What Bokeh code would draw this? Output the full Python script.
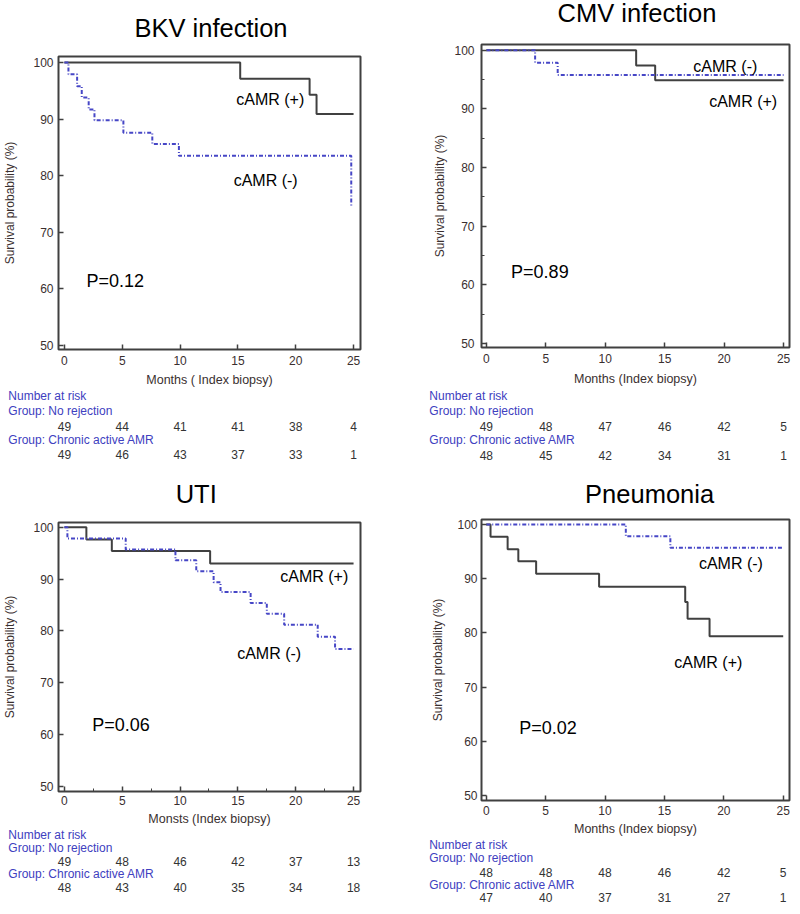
from bokeh.plotting import figure
from bokeh.layouts import column, row
from bokeh.models import Range1d, SingleIntervalTicker
from bokeh.embed import file_html
from bokeh.resources import INLINE
from bokeh.core.properties import value

# ---------------- data ----------------
bkv_pos_t = [0, 15.2, 21.2, 21.8, 25]
bkv_pos_s = [100, 97.1, 94.3, 90.9, 90.9]
bkv_neg_t = [0, 0.35, 1.1, 1.5, 2.1, 2.6, 5.1, 7.6, 9.9, 24.8]
bkv_neg_s = [100, 97.9, 95.8, 93.8, 91.7, 89.8, 87.6, 85.6, 83.5, 74.4]

cmv_pos_t = [0, 12.6, 14.2, 25]
cmv_pos_s = [100, 97.4, 94.9, 94.9]
cmv_neg_t = [0, 4.1, 6.0, 25]
cmv_neg_s = [100, 97.9, 95.8, 95.8]

uti_pos_t = [0, 1.9, 4.1, 12.6, 25]
uti_pos_s = [100, 97.6, 95.4, 93.0, 93.0]
uti_neg_t = [0, 0.26, 5.3, 9.6, 11.4, 12.9, 13.5, 16.1, 17.5, 19.0, 21.9, 23.4, 25]
uti_neg_s = [100, 97.8, 95.7, 93.6, 91.5, 89.4, 87.5, 85.4, 83.3, 81.2, 78.9, 76.5, 76.5]

pn_pos_t = [0, 0.36, 1.8, 2.7, 4.2, 9.5, 16.75, 16.95, 18.8, 25]
pn_pos_s = [100, 97.7, 95.4, 93.2, 90.9, 88.5, 85.7, 82.6, 79.4, 79.4]
pn_neg_t = [0, 11.75, 15.5, 25]
pn_neg_s = [100, 97.8, 95.7, 95.7]

risk_months = [0, 5, 10, 15, 20, 25]
bkv_risk_nr = [49, 44, 41, 41, 38, 4]
bkv_risk_ca = [49, 46, 43, 37, 33, 1]
cmv_risk_nr = [49, 48, 47, 46, 42, 5]
cmv_risk_ca = [48, 45, 42, 34, 31, 1]
uti_risk_nr = [49, 48, 46, 42, 37, 13]
uti_risk_ca = [48, 43, 40, 35, 34, 18]
pn_risk_nr = [48, 48, 48, 46, 42, 5]
pn_risk_ca = [47, 40, 37, 31, 27, 1]

titles = ["BKV infection", "CMV infection", "UTI", "Pneumonia"]
p_values = ["P=0.12", "P=0.89", "P=0.06", "P=0.02"]
x_titles = ["Months ( Index biopsy)", "Months (Index biopsy)",
            "Monsts (Index biopsy)", "Months (Index biopsy)"]
y_title = "Survival probability (%)"
risk_head = "Number at risk"
group_nr = "Group: No rejection"
group_ca = "Group: Chronic active AMR"
lab_pos = "cAMR (+)"
lab_neg = "cAMR (-)"

# ---------------- styling / layout ----------------
SX = 0.98
SY = 0.99
RESERVE = 8          # extra space bokeh keeps at the right of each frame
COLS = [(0, 400), (400, 792)]   # column extents in layout pixels
FONT = "Liberation Sans"
DARK = "#404040"
BLUE = "#4646c6"
TICKC = "#3a2f2f"
TABBLUE = "#4040c0"
HALF = 7  # half height of a 12px text line


def sx(v):
    return int(round(v * SX))


def sy(v):
    return int(round(v * SY))


def blank(W, H, mbl, mbr, xr, yr):
    f = figure(width=W, height=H, min_border=0, min_border_left=mbl,
               min_border_right=mbr, min_border_top=0, min_border_bottom=0,
               x_range=xr, y_range=yr, x_axis_location=None,
               y_axis_location=None, output_backend="svg",
               toolbar_location=None)
    f.grid.visible = False
    f.outline_line_color = None
    f.background_fill_color = "white"
    f.border_fill_color = "white"
    return f


def make_panel(k, pos_t, pos_s, neg_t, neg_s, risk_nr, risk_ca, cfg):
    c0, c1 = COLS[cfg["col"]]
    fy0, fy1 = cfg["fig_y"]
    fl, fr, ft, fb = cfg["frame"]
    tick_y, xtitle_y = cfg["xlab_y"]
    hb = ft - 4
    pb = xtitle_y + HALF + 1
    W = c1 - c0
    mbl = sx(fl) - c0
    mbr = c1 - RESERVE - sx(fr)
    fw = sx(fr) - sx(fl)
    xr0, xr1 = cfg["xr"]
    yr0, yr1 = cfg["yr"]

    # ------- title strip (frame aligned with the plot frame) -------
    h = blank(W, sy(hb) - sy(fy0), mbl, mbr, Range1d(fl, fr), Range1d(hb, fy0))
    h.text(x=[cfg["title_xy"][0]], y=[cfg["title_xy"][1]], text=[titles[k]],
           text_align="center", text_baseline="middle", text_font=value(FONT),
           text_font_size="25.5px", text_color="black", level="overlay")

    # ------- survival plot -------
    H = sy(pb) - sy(hb)
    mbt = sy(ft) - sy(hb)
    mbb = sy(pb) - sy(fb)

    p = figure(width=W, height=H, min_border_left=mbl, min_border_right=mbr,
               min_border_top=mbt, min_border_bottom=mbb,
               x_range=Range1d(xr0, xr1), y_range=Range1d(yr0, yr1),
               output_backend="svg", toolbar_location=None)
    p.grid.visible = False
    p.outline_line_color = DARK
    p.outline_line_width = 2
    p.background_fill_color = "white"
    p.border_fill_color = "white"

    p.xaxis.ticker = SingleIntervalTicker(interval=5, num_minor_ticks=2)
    p.yaxis.ticker = SingleIntervalTicker(interval=10, num_minor_ticks=2)
    for ax in (p.xaxis[0], p.yaxis[0]):
        ax.axis_line_color = None
        ax.major_tick_in = 5
        ax.major_tick_out = 0
        ax.major_tick_line_color = DARK
        ax.major_tick_line_width = 1.5
        ax.minor_tick_in = 3
        ax.minor_tick_out = 0
        ax.minor_tick_line_color = None
        ax.minor_tick_line_width = 1
        ax.major_label_text_font = FONT
        ax.major_label_text_font_size = "12px"
        ax.major_label_text_color = TICKC
        ax.axis_label_text_font = FONT
        ax.axis_label_text_font_style = "normal"
        ax.axis_label_text_color = TICKC
    if cfg["minor_x"]:
        p.xaxis.minor_tick_line_color = DARK
    if cfg["minor_y"]:
        p.yaxis.minor_tick_line_color = DARK

    p.xaxis.axis_label = x_titles[k]
    p.xaxis.axis_label_text_font_size = "12.5px"
    p.xaxis.major_label_standoff = max(0, sy(tick_y - HALF) - sy(fb))
    p.xaxis.axis_label_standoff = max(0, sy(xtitle_y - HALF) - sy(tick_y + HALF))
    p.yaxis.axis_label = y_title
    p.yaxis.axis_label_text_font_size = "12px"
    p.yaxis.major_label_standoff = cfg["yl_stand"]
    p.yaxis.axis_label_standoff = cfg["yt_stand"]

    p.step(x=pos_t, y=pos_s, mode="after", line_color=DARK, line_width=2)
    p.step(x=neg_t, y=neg_s, mode="after", line_color=BLUE, line_width=2,
           line_dash="4 2 1 2")

    ann = cfg["ann"]
    p.text(x=[ann[0][0], ann[1][0]], y=[ann[0][1], ann[1][1]],
           text=[lab_pos, lab_neg], text_align="center", text_baseline="middle",
           text_font=value(FONT), text_font_size="16px", text_color="black")
    p.text(x=[ann[2][0]], y=[ann[2][1]], text=[p_values[k]],
           text_align="center", text_baseline="middle",
           text_font=value(FONT), text_font_size="18px", text_color="black")

    # ------- number-at-risk table, same x scale as the plot -------
    dpp = (xr1 - xr0) / fw
    t = blank(W, sy(fy1) - sy(pb), mbl, mbr,
              Range1d(xr0, xr1), Range1d(fy1, pb))
    rows = cfg["rows"]
    lx = xr0 + (sx(cfg["lab_x"]) - sx(fl)) * dpp
    t.text(x=[lx, lx, lx], y=[rows[0], rows[1], rows[3]],
           text=[risk_head, group_nr, group_ca], text_align="left",
           text_baseline="middle", text_font=value(FONT),
           text_font_size="12px", text_color=TABBLUE, level="overlay")
    t.text(x=risk_months, y=[rows[2]] * len(risk_months),
           text=[str(v) for v in risk_nr], text_align="center",
           text_baseline="middle", text_font=value(FONT),
           text_font_size="12px", text_color="#333333", level="overlay")
    t.text(x=risk_months, y=[rows[4]] * len(risk_months),
           text=[str(v) for v in risk_ca], text_align="center",
           text_baseline="middle", text_font=value(FONT),
           text_font_size="12px", text_color="#333333", level="overlay")
    return h, p, t


cfgA = dict(col=0, fig_y=(0, 470), frame=(52, 359, 57, 353),
            title_xy=(207, 28), xlab_y=(366, 385),
            xr=(-0.51, 25.6), yr=(49.3, 101.05), yl_stand=5, yt_stand=13,
            minor_x=False, minor_y=False,
            ann=[(17.8, 93.4), (17.4, 79.1), (4.4, 61.4)],
            rows=[400, 415, 430, 444, 459], lab_x=1)
cfgB = dict(col=1, fig_y=(0, 470), frame=(485, 798, 44, 351),
            title_xy=(643, 12), xlab_y=(364, 384),
            xr=(-0.41, 25.5), yr=(49.3, 101.0), yl_stand=7, yt_stand=4,
            minor_x=False, minor_y=True,
            ann=[(21.6, 91.2), (20.1, 97.3), (4.5, 62.2)],
            rows=[400, 415, 430, 444, 460], lab_x=432)
cfgC = dict(col=0, fig_y=(470, 914), frame=(52, 359, 527, 799),
            title_xy=(192, 498), xlab_y=(810, 828),
            xr=(-0.51, 25.6), yr=(49.05, 100.9), yl_stand=5, yt_stand=13,
            minor_x=True, minor_y=False,
            ann=[(21.6, 90.4), (17.7, 75.6), (4.9, 61.8)],
            rows=[843, 856, 869, 882, 896], lab_x=1)
cfgD = dict(col=1, fig_y=(470, 914), frame=(491, 797, 524, 808),
            title_xy=(658, 498), xlab_y=(820, 838),
            xr=(-0.4, 25.53), yr=(49.1, 100.9), yl_stand=4, yt_stand=9,
            minor_x=False, minor_y=False,
            ann=[(18.7, 74.5), (20.6, 92.8), (5.2, 62.5)],
            rows=[853, 866, 880, 893, 906], lab_x=439)

hA, pA, tA = make_panel(0, bkv_pos_t, bkv_pos_s, bkv_neg_t, bkv_neg_s,
                        bkv_risk_nr, bkv_risk_ca, cfgA)
hB, pB, tB = make_panel(1, cmv_pos_t, cmv_pos_s, cmv_neg_t, cmv_neg_s,
                        cmv_risk_nr, cmv_risk_ca, cfgB)
hC, pC, tC = make_panel(2, uti_pos_t, uti_pos_s, uti_neg_t, uti_neg_s,
                        uti_risk_nr, uti_risk_ca, cfgC)
hD, pD, tD = make_panel(3, pn_pos_t, pn_pos_s, pn_neg_t, pn_neg_s,
                        pn_risk_nr, pn_risk_ca, cfgD)

layout = row(column(hA, pA, tA, hC, pC, tC), column(hB, pB, tB, hD, pD, tD))

open("out.html", "w").write(file_html(layout, INLINE))
